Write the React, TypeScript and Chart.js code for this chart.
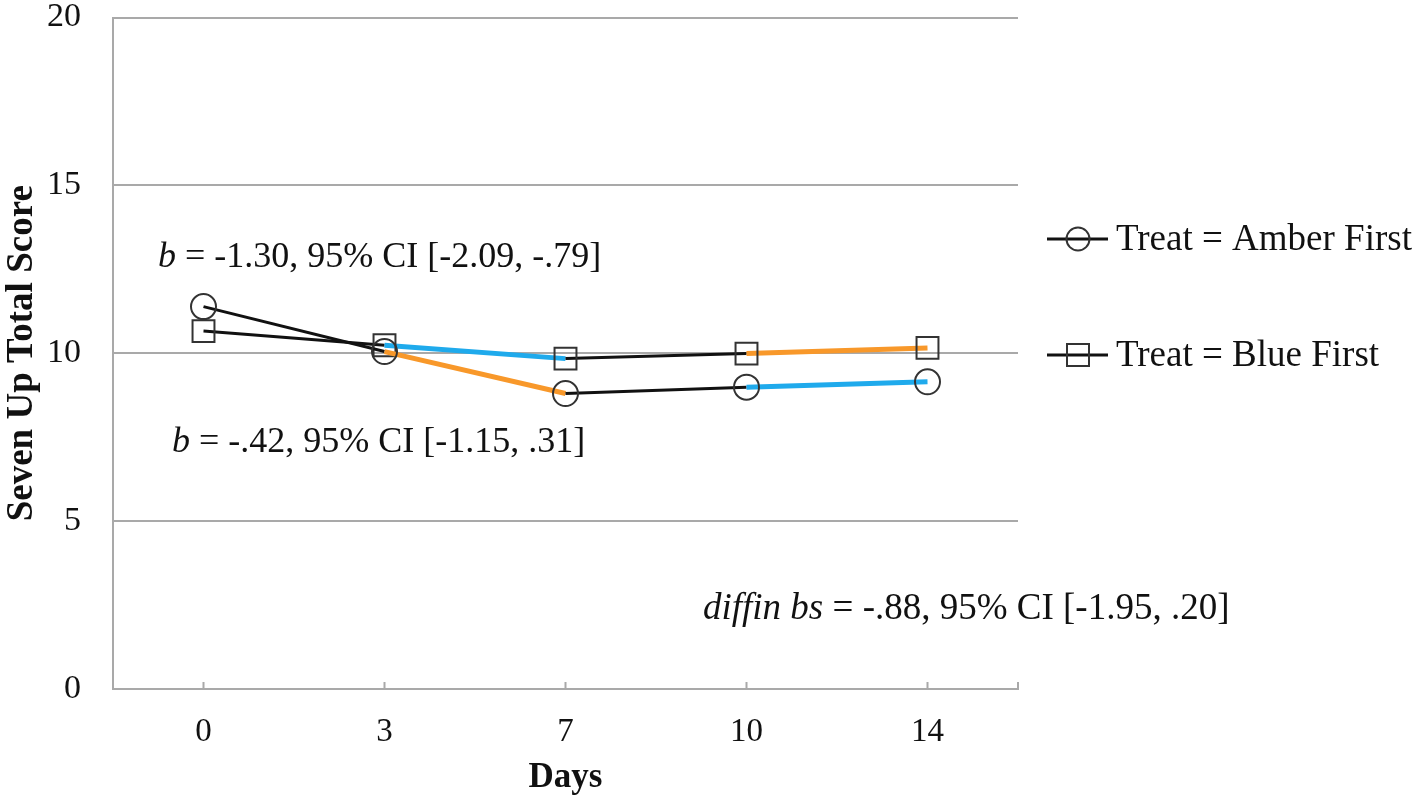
import React, { useEffect, useRef } from 'react';
import { Chart, registerables } from 'chart.js';

Chart.register(...registerables);

// ---- data ----
const days = ['0', '3', '7', '10', '14'];
const amberFirst = [11.39, 10.05, 8.8, 8.99, 9.15];
const blueFirst = [10.66, 10.24, 9.84, 9.99, 10.16];
const yTickValues = [0, 5, 10, 15, 20];
const seriesLabels = ['Treat = Amber First', 'Treat = Blue First'];

const BLACK = '#111111';
const ORANGE = '#F8982A';
const BLUE = '#1FAAEC';
const amberSegmentColors = [BLACK, ORANGE, BLACK, BLUE];
const blueSegmentColors = [BLACK, BLUE, BLACK, ORANGE];

const annotationTexts = [
  [{ t: 'b', i: true }, { t: ' = -1.30, 95% CI [-2.09, -.79]', i: false }],
  [{ t: 'b', i: true }, { t: ' = -.42, 95% CI [-1.15, .31]', i: false }],
  [{ t: 'diffin bs', i: true }, { t: ' = -.88, 95% CI [-1.95, .20]', i: false }],
];

// ---- layout / style ----
const FONT = "'Liberation Serif', 'Times New Roman', serif";
const GRID = '#a9a9a9';
const MARKER = '#333333';
const annotationPos = [
  { x: 158, y: 267, size: 36 },
  { x: 172, y: 452, size: 36 },
  { x: 703, y: 619, size: 37 },
];
const legendPos = [
  { y: 239, baseline: 250 },
  { y: 355, baseline: 366 },
];

const annotationPlugin = {
  id: 'annotations',
  afterDatasetsDraw(chart: any) {
    const ctx = chart.ctx;
    ctx.save();
    ctx.fillStyle = '#111';
    ctx.textBaseline = 'alphabetic';
    ctx.textAlign = 'left';
    annotationTexts.forEach((parts, k) => {
      let x = annotationPos[k].x;
      const y = annotationPos[k].y;
      parts.forEach((p) => {
        ctx.font = `${p.i ? 'italic ' : ''}${annotationPos[k].size}px ${FONT}`;
        ctx.fillText(p.t, x, y);
        x += ctx.measureText(p.t).width;
      });
    });
    ctx.restore();
  },
};

const xTickMarksPlugin = {
  id: 'xTickMarks',
  afterDraw(chart: any) {
    const ctx = chart.ctx;
    const xs = chart.scales.x;
    const bottom = chart.chartArea.bottom;
    ctx.save();
    ctx.strokeStyle = GRID;
    ctx.lineWidth = 2;
    const positions = days.map((_, i) => xs.getPixelForValue(i));
    positions.push(chart.chartArea.right);
    positions.forEach((px) => {
      ctx.beginPath();
      ctx.moveTo(px, bottom);
      ctx.lineTo(px, bottom - 7);
      ctx.stroke();
    });
    ctx.restore();
  },
};

const legendPlugin = {
  id: 'customLegend',
  afterDraw(chart: any) {
    const ctx = chart.ctx;
    ctx.save();
    chart.data.datasets.forEach((ds: any, k: number) => {
      const y = legendPos[k].y;
      ctx.strokeStyle = BLACK;
      ctx.lineWidth = 3;
      ctx.beginPath();
      ctx.moveTo(1047, y);
      ctx.lineTo(1108, y);
      ctx.stroke();
      ctx.strokeStyle = MARKER;
      ctx.lineWidth = 2;
      ctx.beginPath();
      if (ds.pointStyle === 'rect') {
        ctx.rect(1078 - 11, y - 11, 22, 22);
      } else {
        ctx.arc(1078, y, 11.5, 0, Math.PI * 2);
      }
      ctx.stroke();
      ctx.fillStyle = '#111';
      ctx.font = `37px ${FONT}`;
      ctx.textBaseline = 'alphabetic';
      ctx.textAlign = 'left';
      ctx.fillText(ds.label, 1116, legendPos[k].baseline);
    });
    ctx.restore();
  },
};

export default function App() {
  const ref = useRef<HTMLCanvasElement | null>(null);

  useEffect(() => {
    if (!ref.current) return;
    const chart = new Chart(ref.current, {
      type: 'line',
      data: {
        labels: days,
        datasets: [
          {
            label: seriesLabels[0],
            data: amberFirst,
            borderColor: BLACK,
            borderWidth: 3,
            pointStyle: 'circle',
            pointRadius: 12.5,
            pointBorderColor: MARKER,
            pointBorderWidth: 2,
            pointBackgroundColor: 'rgba(0,0,0,0)',
            fill: false,
            tension: 0,
            segment: {
              borderColor: (c: any) => amberSegmentColors[c.p0DataIndex],
              borderWidth: (c: any) => (amberSegmentColors[c.p0DataIndex] === BLACK ? 3 : 5),
            },
          },
          {
            label: seriesLabels[1],
            data: blueFirst,
            borderColor: BLACK,
            borderWidth: 3,
            pointStyle: 'rect',
            pointRadius: 15.5,
            pointBorderColor: MARKER,
            pointBorderWidth: 2,
            pointBackgroundColor: 'rgba(0,0,0,0)',
            fill: false,
            tension: 0,
            segment: {
              borderColor: (c: any) => blueSegmentColors[c.p0DataIndex],
              borderWidth: (c: any) => (blueSegmentColors[c.p0DataIndex] === BLACK ? 3 : 5),
            },
          },
        ],
      },
      options: {
        responsive: true,
        maintainAspectRatio: false,
        animation: false,
        events: [],
        layout: { padding: { top: 15, right: 400, left: 0, bottom: 0 } },
        plugins: {
          legend: { display: false },
          tooltip: { enabled: false },
          title: { display: false },
        },
        scales: {
          x: {
            type: 'category',
            offset: true,
            grid: { display: false, drawTicks: false },
            border: { display: true, color: GRID, width: 2 },
            ticks: {
              color: '#111',
              font: { family: FONT, size: 33 },
              padding: 24,
              maxRotation: 0,
            },
            title: {
              display: true,
              text: 'Days',
              color: '#111',
              font: { family: FONT, size: 35, weight: 'bold' },
              padding: { top: 0, bottom: 2 },
            },
            afterFit: (s: any) => {
              s.height = 112;
              s.paddingLeft = 0;
              s.paddingRight = 0;
            },
          },
          y: {
            min: 0,
            max: 20,
            afterBuildTicks: (s: any) => {
              s.ticks = yTickValues.map((v) => ({ value: v }));
            },
            grid: { color: GRID, lineWidth: 2, drawTicks: false },
            border: { display: true, color: GRID, width: 2 },
            ticks: {
              color: '#111',
              font: { family: FONT, size: 34 },
              padding: 32,
            },
            title: {
              display: true,
              text: 'Seven Up Total Score',
              color: '#111',
              font: { family: FONT, size: 37, weight: 'bold' },
              padding: { top: 0, bottom: 0 },
            },
            afterFit: (s: any) => {
              s.width = 113;
              s.paddingTop = 0;
              s.paddingBottom = 0;
            },
          },
        },
      } as any,
      plugins: [annotationPlugin, xTickMarksPlugin, legendPlugin],
    });
    return () => chart.destroy();
  }, []);

  return (
    <div style={{ position: 'fixed', left: 0, top: 0, width: 1418, height: 801, background: '#fff' }}>
      <canvas ref={ref} />
    </div>
  );
}
